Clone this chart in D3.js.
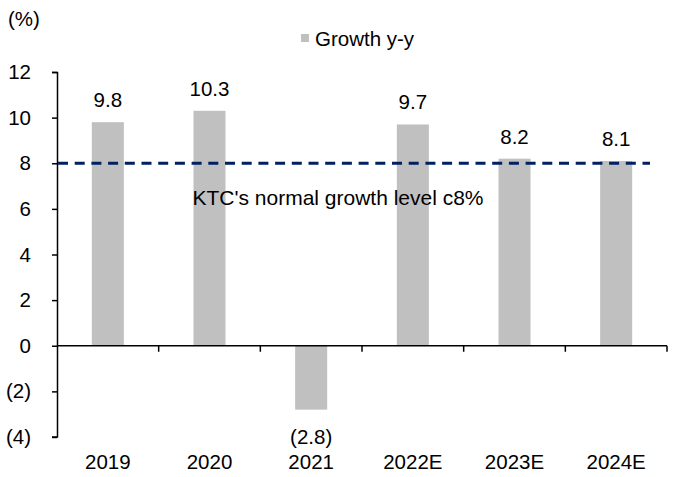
<!DOCTYPE html>
<html>
<head>
<meta charset="utf-8">
<script src="https://cdn.jsdelivr.net/npm/d3@7"></script>
<style>
  body { margin: 0; background: #fff; }
  text { font-family: "Liberation Sans", Arial, sans-serif; fill: #000; }
</style>
</head>
<body>
<div id="chart"></div>
<script>
// valores
const years = ['2019', '2020', '2021', '2022E', '2023E', '2024E'];
const growth = [9.8, 10.3, -2.8, 9.7, 8.2, 8.1];
const yTicks = [-4, -2, 0, 2, 4, 6, 8, 10, 12];
const normalLevel = 8;

const WIDTH = 694;
const HEIGHT = 477;
const MARGIN = { TOP: 72, BOTTOM: 40, LEFT: 57, RIGHT: 27 };
const FONT = 20.5;

const width = WIDTH - MARGIN.LEFT - MARGIN.RIGHT;
const height = HEIGHT - MARGIN.TOP - MARGIN.BOTTOM;

const fmt = v => v < 0 ? `(${Math.abs(v)})` : `${v}`;
const fmtVal = v => v < 0 ? `(${d3.format('.1f')(Math.abs(v))})` : d3.format('.1f')(v);

const svg = d3.select('#chart').append('svg')
  .attr('width', WIDTH)
  .attr('height', HEIGHT);

const g = svg.append('g')
  .attr('transform', `translate(${MARGIN.LEFT}, ${MARGIN.TOP})`);

const xscale = d3.scaleBand().domain(years).range([0, width]).paddingInner(0.685).paddingOuter(0.3425);
const yscale = d3.scaleLinear().domain([-4, 12]).range([height, 0]);

// barras
g.selectAll('rect.bar')
  .data(growth)
  .enter().append('rect')
    .attr('class', 'bar')
    .attr('x', (d, i) => xscale(years[i]))
    .attr('width', xscale.bandwidth())
    .attr('y', d => yscale(Math.max(0, d)))
    .attr('height', d => Math.abs(yscale(d) - yscale(0)))
    .attr('fill', '#c0c0c0');

// eje x en cero, con ticks entre categorias
const step = width / years.length;
const xAxisG = g.append('g').attr('transform', `translate(0, ${yscale(0)})`);
xAxisG.append('line')
  .attr('x1', 0).attr('x2', width)
  .attr('stroke', '#000').attr('stroke-width', 1.5);
xAxisG.selectAll('line.tick')
  .data(d3.range(1, years.length + 1))
  .enter().append('line')
    .attr('class', 'tick')
    .attr('x1', i => i * step).attr('x2', i => i * step)
    .attr('y1', 0).attr('y2', 6)
    .attr('stroke', '#000').attr('stroke-width', 1.5);

// etiquetas de categoria
g.selectAll('text.cat')
  .data(years)
  .enter().append('text')
    .attr('class', 'cat')
    .attr('x', d => xscale(d) + xscale.bandwidth() / 2)
    .attr('y', height + 32)
    .attr('text-anchor', 'middle')
    .style('font-size', FONT + 'px')
    .text(d => d);

// eje y
const axisLeft = d3.axisLeft(yscale).tickValues(yTicks).tickFormat(fmt).tickSize(5).tickPadding(21);
const yAxis = g.append('g').call(axisLeft);
yAxis.select('.domain').attr('stroke-width', 1.5).attr('d', `M-5,0.5H0.5V${height}H-5`);
yAxis.selectAll('.tick line').attr('stroke-width', 1.5);
yAxis.selectAll('.tick text')
  .style('font-size', FONT + 'px')
  .style('font-family', '"Liberation Sans", Arial, sans-serif');

// linea de crecimiento normal
g.append('line')
  .attr('x1', 1).attr('x2', 593)
  .attr('y1', yscale(normalLevel)).attr('y2', yscale(normalLevel))
  .attr('stroke', '#002060')
  .attr('stroke-width', 3.2)
  .attr('stroke-dasharray', '10,6.7');

g.append('text')
  .attr('x', 281)
  .attr('y', yscale(normalLevel) + 42)
  .attr('text-anchor', 'middle')
  .style('font-size', '21px')
  .text("KTC's normal growth level c8%");

// etiquetas de valores
g.selectAll('text.val')
  .data(growth)
  .enter().append('text')
    .attr('class', 'val')
    .attr('x', (d, i) => xscale(years[i]) + xscale.bandwidth() / 2)
    .attr('y', d => d >= 0 ? yscale(d) - 15 : yscale(d) + 34)
    .attr('text-anchor', 'middle')
    .style('font-size', FONT + 'px')
    .text(d => fmtVal(d));

// unidad
svg.append('text')
  .attr('x', 8).attr('y', 26)
  .style('font-size', FONT + 'px')
  .text('(%)');

// leyenda
const legend = svg.append('g').attr('transform', 'translate(301, 34)');
legend.append('rect')
  .attr('width', 8).attr('height', 8)
  .attr('fill', '#c0c0c0');
legend.append('text')
  .attr('x', 14).attr('y', 12)
  .style('font-size', FONT + 'px')
  .text('Growth y-y');
</script>
</body>
</html>
